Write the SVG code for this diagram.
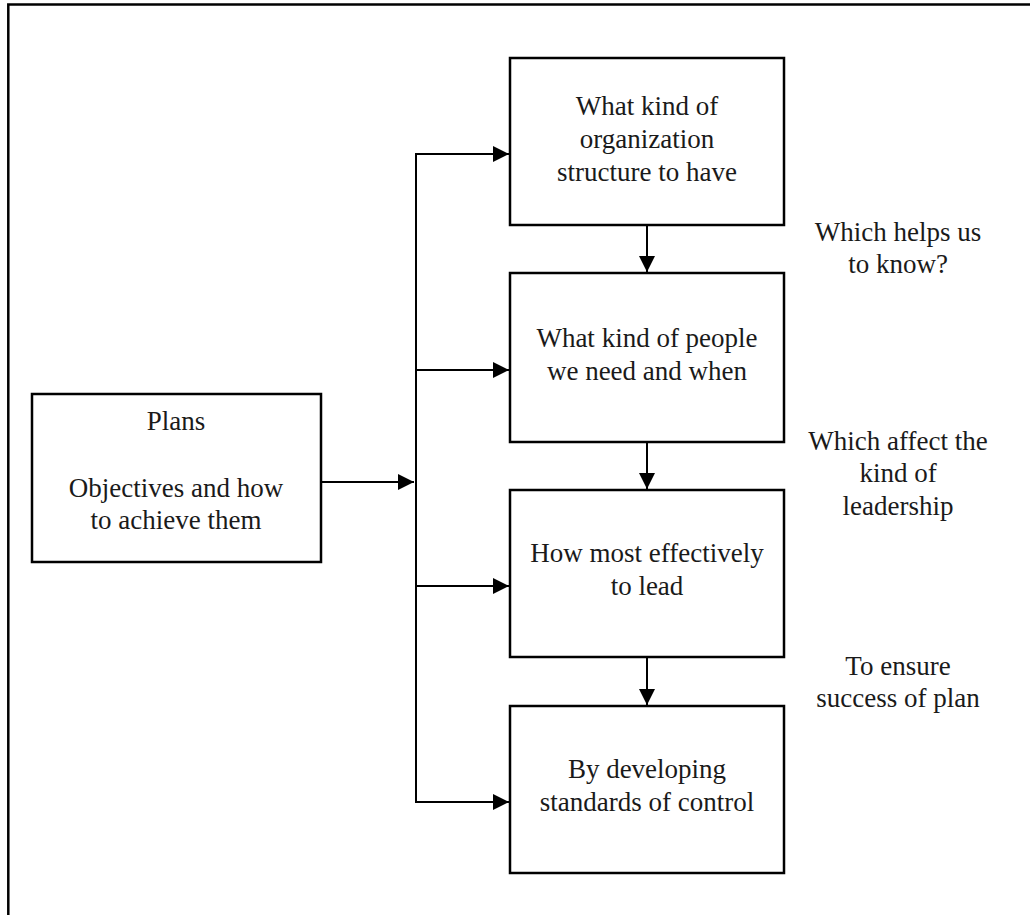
<svg xmlns="http://www.w3.org/2000/svg" width="1030" height="915" viewBox="0 0 1030 915">
<style>
  .box { fill: #fff; stroke: #000; stroke-width: 2.5; }
  .frame { fill: none; stroke: #000; stroke-width: 2.5; }
  .conn { fill: none; stroke: #000; stroke-width: 2; }
  text { font-family: "Liberation Serif", "Times New Roman", serif; font-size: 27px; fill: #1a1a1a; text-anchor: middle; }
</style>
<defs>
  <marker id="arrow" viewBox="0 0 16 16" refX="16" refY="8" markerWidth="16" markerHeight="16" markerUnits="userSpaceOnUse" orient="auto">
    <path d="M0,0 L16,8 L0,16 Z" fill="#000"/>
  </marker>
</defs>
<path class="frame" d="M8.3,915 V4.5 H1030"/>
<g id="connectors">
  <line class="conn" x1="321" y1="482" x2="414" y2="482" marker-end="url(#arrow)"/>
  <line class="conn" x1="416" y1="153" x2="416" y2="803"/>
  <line class="conn" x1="415" y1="154" x2="509" y2="154" marker-end="url(#arrow)"/>
  <line class="conn" x1="416" y1="370" x2="509" y2="370" marker-end="url(#arrow)"/>
  <line class="conn" x1="416" y1="586" x2="509" y2="586" marker-end="url(#arrow)"/>
  <line class="conn" x1="415" y1="802" x2="509" y2="802" marker-end="url(#arrow)"/>
  <line class="conn" x1="647" y1="225" x2="647" y2="272" marker-end="url(#arrow)"/>
  <line class="conn" x1="647" y1="442" x2="647" y2="489" marker-end="url(#arrow)"/>
  <line class="conn" x1="647" y1="657" x2="647" y2="705" marker-end="url(#arrow)"/>
</g>
<g id="plans">
  <rect class="box" x="32" y="394" width="289" height="168"/>
  <text x="176" y="430">Plans</text>
  <text x="176" y="497">Objectives and how</text>
  <text x="176" y="529">to achieve them</text>
</g>
<g id="structure">
  <rect class="box" x="510" y="58" width="274" height="167"/>
  <text x="647" y="115">What kind of</text>
  <text x="647" y="148">organization</text>
  <text x="647" y="181">structure to have</text>
</g>
<g id="people">
  <rect class="box" x="510" y="273" width="274" height="169"/>
  <text x="647" y="347">What kind of people</text>
  <text x="647" y="380">we need and when</text>
</g>
<g id="lead">
  <rect class="box" x="510" y="490" width="274" height="167"/>
  <text x="647" y="562">How most effectively</text>
  <text x="647" y="595">to lead</text>
</g>
<g id="control">
  <rect class="box" x="510" y="706" width="274" height="167"/>
  <text x="647" y="778">By developing</text>
  <text x="647" y="811">standards of control</text>
</g>
<g id="label-helps">
  <text x="898" y="241">Which helps us</text>
  <text x="898" y="273">to know?</text>
</g>
<g id="label-affect">
  <text x="898" y="450">Which affect the</text>
  <text x="898" y="482">kind of</text>
  <text x="898" y="515">leadership</text>
</g>
<g id="label-ensure">
  <text x="898" y="675">To ensure</text>
  <text x="898" y="707">success of plan</text>
</g>
</svg>
